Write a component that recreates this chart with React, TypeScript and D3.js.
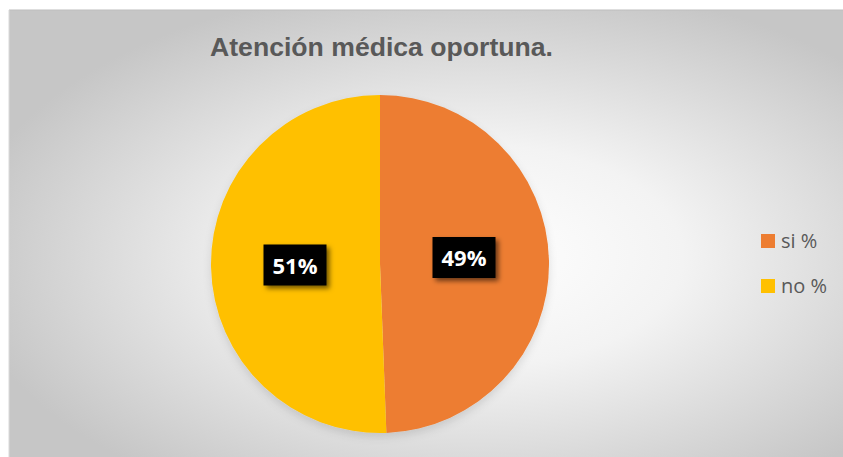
import React from "react";
import * as d3 from "d3";

const categories = ["si %", "no %"];
const values = [49.4, 50.6];
const labels = ["49%", "51%"];
const colors = ["#ED7D31", "#FFC000"];
const title = "Atención médica oportuna.";

const W = 843;
const H = 457;

export default function App() {
  const cx = 380;
  const cy = 264;
  const r = 169;
  const pie = d3.pie<number>().sort(null).value((d) => d);
  const arcs = pie(values);
  const arc = d3.arc<d3.PieArcDatum<number>>().innerRadius(0).outerRadius(r);
  const labelPos = [
    [464, 257.5],
    [295, 265],
  ];
  return (
    <svg
      width={W}
      height={H}
      style={{ position: "absolute", left: 0, top: 0 }}
    >
      <defs>
        <radialGradient id="bg" cx="0.56" cy="0.55" r="0.62">
          <stop offset="0" stopColor="#ffffff" />
          <stop offset="0.4" stopColor="#f3f3f3" />
          <stop offset="1" stopColor="#c6c6c6" />
        </radialGradient>
        <filter id="sh" x="-30%" y="-30%" width="170%" height="170%">
          <feDropShadow dx="3" dy="3" stdDeviation="2.5" floodColor="#000" floodOpacity="0.55" />
        </filter>
        <filter id="pieSh" x="-20%" y="-20%" width="140%" height="150%">
          <feDropShadow dx="0" dy="4" stdDeviation="4" floodColor="#000" floodOpacity="0.12" />
        </filter>
      </defs>
      <rect x={9} y={10} width={W - 9} height={H - 10} fill="url(#bg)" />
      <line x1={9} y1={10} x2={W} y2={10} stroke="#bdbdbd" strokeWidth={1} />
      <line x1={9} y1={10} x2={9} y2={H} stroke="#d9d9d9" strokeWidth={1} />
      <text
        x={381.5}
        y={56}
        textAnchor="middle"
        fontFamily="Liberation Sans, Arial, sans-serif"
        fontWeight="bold"
        fontSize={26}
        fill="#595959"
        textLength={343}
        lengthAdjust="spacingAndGlyphs"
      >
        {title}
      </text>
      <g transform={`translate(${cx},${cy})`} filter="url(#pieSh)">
        {arcs.map((a, i) => (
          <path key={i} d={arc(a) || ""} fill={colors[i]} />
        ))}
      </g>
      {arcs.map((a, i) => {
        const [lx, ly] = labelPos[i];
        return (
          <g key={i} transform={`translate(${lx},${ly})`}>
            <rect x={-31.5} y={-20.5} width={63} height={41} fill="#000" filter="url(#sh)" />
            <text
              x={0}
              y={8.5}
              textAnchor="middle"
              fontFamily="Open Sans, Liberation Sans, sans-serif"
              fontWeight="bold"
              fontSize={22}
              fill="#ffffff"
            >
              {labels[i]}
            </text>
          </g>
        );
      })}
      {categories.map((c, i) => (
        <g key={c} transform={`translate(761,${234 + i * 45})`}>
          <rect x={0} y={0} width={14} height={14} fill={colors[i]} />
          <text
            x={20}
            y={14}
            fontFamily="Open Sans, Liberation Sans, sans-serif"
            fontSize={20}
            fill="#595959"
          >
            {c}
          </text>
        </g>
      ))}
    </svg>
  );
}
